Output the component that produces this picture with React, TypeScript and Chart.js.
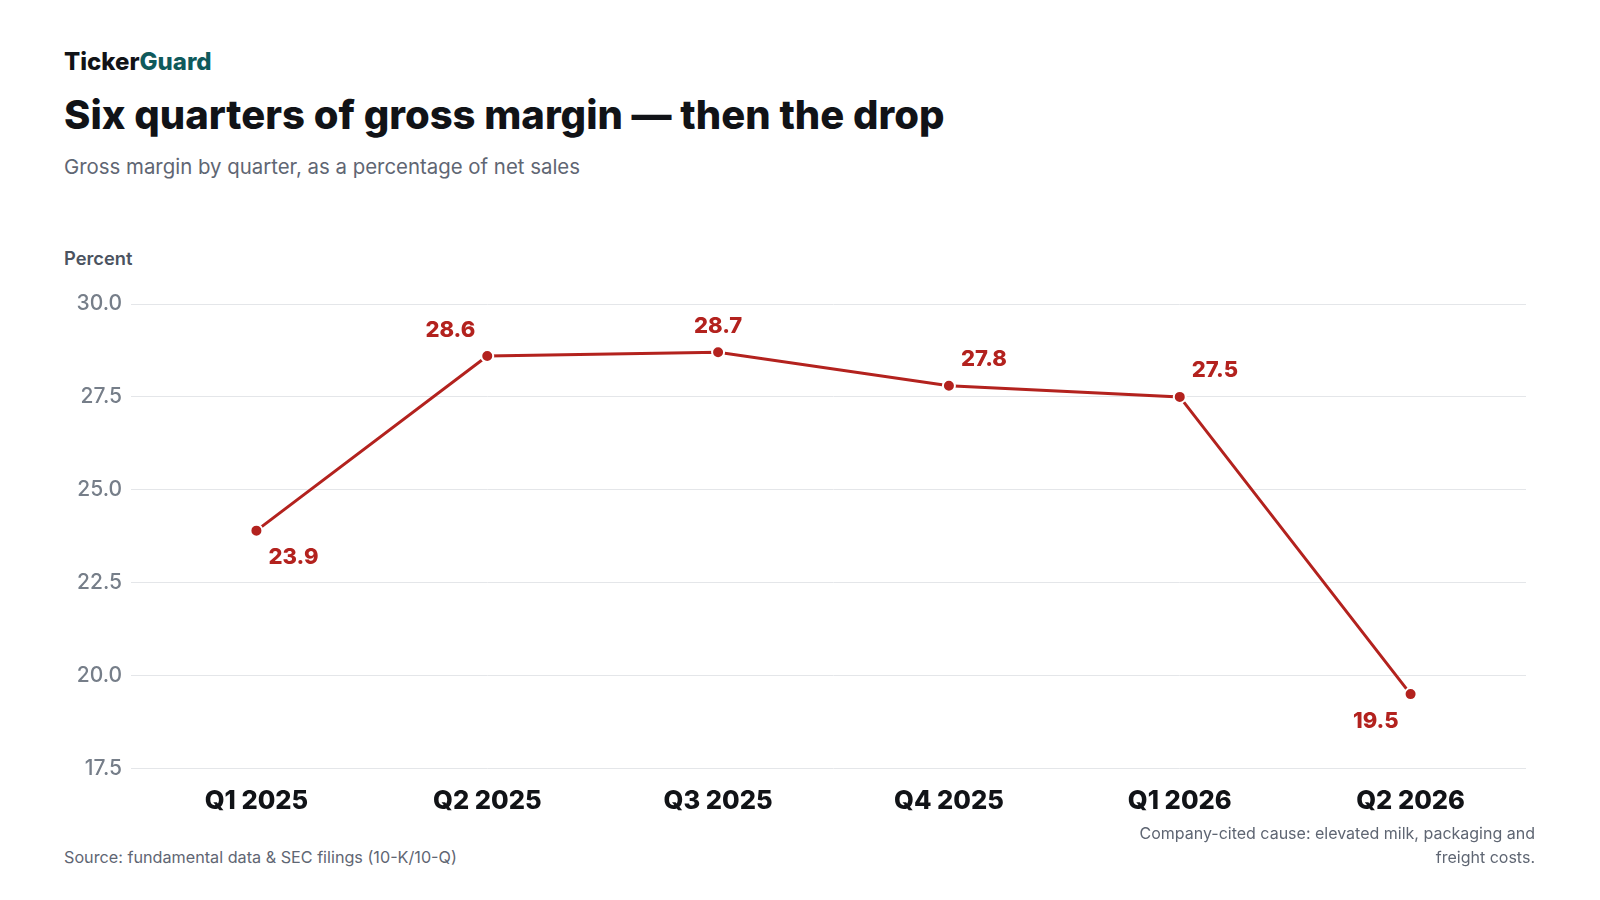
import { useEffect, useRef } from "react";
import { Chart, registerables } from "chart.js";

Chart.register(...registerables);

const QUARTERS = ["Q1 2025", "Q2 2025", "Q3 2025", "Q4 2025", "Q1 2026", "Q2 2026"];
const GROSS_MARGIN = [23.9, 28.6, 28.7, 27.8, 27.5, 19.5];
const Y_MIN = 17.5;
const Y_MAX = 30;
const Y_STEP = 2.5;

// where each value label sits relative to its point
const LABEL_PLACEMENT = ["below-right", "above-left", "above", "above-right", "above-right", "below-left"];

const RED = "#b3221e";
const FONT = "Inter, 'Noto Sans', sans-serif";

const valueLabels = {
  id: "valueLabels",
  afterDatasetsDraw(chart: Chart) {
    const { ctx } = chart;
    const meta = chart.getDatasetMeta(0);
    ctx.save();
    ctx.font = `800 22px ${FONT}`;
    ctx.fillStyle = RED;
    ctx.textBaseline = "middle";
    meta.data.forEach((pt, i) => {
      const place = LABEL_PLACEMENT[i];
      const dy = place.startsWith("below") ? 27 : -26;
      let dx = 0;
      ctx.textAlign = "center";
      if (place.endsWith("right")) {
        ctx.textAlign = "left";
        dx = 12;
      } else if (place.endsWith("left")) {
        ctx.textAlign = "right";
        dx = -12;
      }
      ctx.fillText(GROSS_MARGIN[i].toFixed(1), pt.x + dx, pt.y + dy);
    });
    ctx.restore();
  },
};

function MarginChart() {
  const canvasRef = useRef<HTMLCanvasElement>(null);

  useEffect(() => {
    if (!canvasRef.current) return;
    Chart.defaults.font.family = FONT;

    const chart = new Chart(canvasRef.current, {
      type: "line",
      data: {
        labels: QUARTERS,
        datasets: [
          {
            data: GROSS_MARGIN,
            borderColor: RED,
            borderWidth: 3,
            backgroundColor: RED,
            pointBackgroundColor: RED,
            pointBorderColor: "#ffffff",
            pointBorderWidth: 2,
            pointRadius: 6,
            tension: 0,
          },
        ],
      },
      options: {
        responsive: true,
        maintainAspectRatio: false,
        animation: false,
        layout: { padding: { top: 24, left: 0, right: 0, bottom: 0 } },
        plugins: {
          legend: { display: false },
          tooltip: { enabled: false },
        },
        scales: {
          x: {
            offset: true,
            grid: { display: false, drawTicks: false },
            border: { display: false },
            ticks: {
              color: "#111317",
              padding: 18,
              font: { size: 25.5, weight: 800 },
            },
          },
          y: {
            min: Y_MIN,
            max: Y_MAX,
            afterFit: (scale) => {
              scale.width = 77;
            },
            grid: { color: "#e4e6e9", lineWidth: 1, tickLength: 10 },
            border: { display: false },
            ticks: {
              stepSize: Y_STEP,
              padding: 9,
              color: "#767e89",
              font: { size: 21, weight: 500 },
              callback: (v) => Number(v).toFixed(1),
            },
          },
        },
      },
      plugins: [valueLabels],
    });

    return () => chart.destroy();
  }, []);

  return (
    <div style={{ position: "absolute", left: 64, top: 280, width: 1470, height: 555 }}>
      <canvas ref={canvasRef} />
    </div>
  );
}

export default function App() {
  const text = { position: "absolute" as const, margin: 0, fontFamily: FONT, lineHeight: 1, whiteSpace: "nowrap" as const };
  return (
    <div style={{ position: "fixed", left: 0, top: 0, width: 1600, height: 900, background: "#ffffff", overflow: "hidden" }}>
      <div style={{ ...text, left: 64, top: 50, fontSize: 24, fontWeight: 800, color: "#111317" }}>
        Ticker<span style={{ color: "#0f5a5c" }}>Guard</span>
      </div>
      <div style={{ ...text, left: 64, top: 95, fontSize: 40, fontWeight: 800, color: "#111317" }}>
        Six quarters of gross margin — then the drop
      </div>
      <div style={{ ...text, left: 64, top: 157, fontSize: 20.4, color: "#5f6673" }}>
        Gross margin by quarter, as a percentage of net sales
      </div>
      <div style={{ ...text, left: 64, top: 249, fontSize: 18.3, fontWeight: 600, color: "#4b5360" }}>Percent</div>
      <MarginChart />
      <div style={{ ...text, left: 64, top: 849, fontSize: 16.2, color: "#5f6673" }}>
        Source: fundamental data &amp; SEC filings (10-K/10-Q)
      </div>
      <div style={{ ...text, right: 65, top: 821, fontSize: 16, lineHeight: "24px", color: "#5f6673", textAlign: "right" }}>
        Company-cited cause: elevated milk, packaging and
        <br />
        freight costs.
      </div>
    </div>
  );
}
